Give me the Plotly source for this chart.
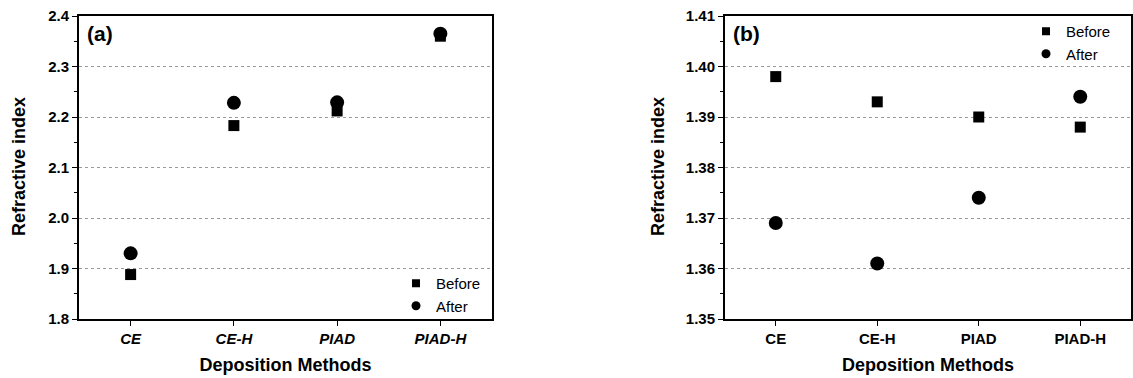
import plotly.graph_objects as go

categories = ["CE", "CE-H", "PIAD", "PIAD-H"]
before_a = [1.888, 2.183, 2.212, 2.360]
after_a = [1.930, 2.228, 2.229, 2.365]
before_b = [1.398, 1.393, 1.390, 1.388]
after_b = [1.369, 1.361, 1.374, 1.394]
yticks_a = [1.8, 1.9, 2.0, 2.1, 2.2, 2.3, 2.4]
yticks_b = [1.35, 1.36, 1.37, 1.38, 1.39, 1.40, 1.41]
series_names = ["Before", "After"]

W, H = 1133, 378
FONT = "Liberation Sans, Arial, sans-serif"

fig = go.Figure()
msq = dict(symbol="square", size=11, color="black")
mci = dict(symbol="circle", size=14, color="black")
lsq = dict(symbol="square", size=8, color="black")
lci = dict(symbol="circle", size=9, color="black")

for xa, ya, lg, bef, aft in [("x", "y", "legend", before_a, after_a),
                             ("x2", "y2", "legend2", before_b, after_b)]:
    fig.add_trace(go.Scatter(x=categories, y=bef, mode="markers", marker=msq,
                             xaxis=xa, yaxis=ya, showlegend=False))
    fig.add_trace(go.Scatter(x=categories, y=aft, mode="markers", marker=mci,
                             xaxis=xa, yaxis=ya, showlegend=False))
    fig.add_trace(go.Scatter(x=[None], y=[None], mode="markers", marker=lsq,
                             name=series_names[0], xaxis=xa, yaxis=ya, legend=lg))
    fig.add_trace(go.Scatter(x=[None], y=[None], mode="markers", marker=lci,
                             name=series_names[1], xaxis=xa, yaxis=ya, legend=lg))

ydom = [1 - 319 / H, 1 - 16 / H]

def xax(dom, italic, anchor):
    return dict(domain=dom, anchor=anchor, type="category", range=[-0.5, 3.5],
                automargin=False,
                showline=True, linecolor="black", linewidth=2, mirror=True,
                ticks="outside", ticklen=5, tickcolor="black", showgrid=False,
                tickfont=dict(family=FONT, size=15, color="black", weight="bold",
                              style="italic" if italic else "normal"),
                title=dict(text="Deposition Methods", standoff=12,
                           font=dict(family=FONT, size=18, color="black", weight="bold")))

def yax(ticks, anchor, fmt):
    return dict(domain=ydom, anchor=anchor, range=[ticks[0], ticks[-1]],
                tickvals=ticks, tickformat=fmt, automargin=False,
                showline=True, linecolor="black", linewidth=2, mirror=True,
                ticks="outside", ticklen=5, tickcolor="black",
                showgrid=True, gridcolor="#9a9a9a", griddash="dot", gridwidth=1,
                zeroline=False,
                minor=dict(ticks="outside", ticklen=3, tickcolor="black",
                           dtick=(ticks[1] - ticks[0]) / 2, showgrid=False),
                tickfont=dict(family=FONT, size=15, color="black", weight="bold"))

leg_common = dict(xanchor="left", yanchor="top", bgcolor="rgba(0,0,0,0)",
                  itemwidth=30, tracegroupgap=0,
                  font=dict(family=FONT, size=15, color="black"))

def label(text, x, y, size, angle=0):
    return dict(text=text, x=x / W, y=1 - y / H, xref="paper", yref="paper",
                xanchor="center", yanchor="middle", showarrow=False, textangle=angle,
                font=dict(family=FONT, size=size, color="black", weight="bold"))

ann = [
    dict(label("(a)", 0, 0, 21), x=85 / W, y=1 - 20 / H, xanchor="left", yanchor="top"),
    dict(label("(b)", 0, 0, 21), x=731 / W, y=1 - 20 / H, xanchor="left", yanchor="top"),
    label("Refractive index", 19, 167, 18, -90),
    label("Refractive index", 658, 167, 18, -90),
]

fig.update_layout(
    width=W, height=H, plot_bgcolor="white", paper_bgcolor="white",
    margin=dict(l=0, r=0, t=0, b=0, autoexpand=False),
    xaxis=xax([79 / W, 492 / W], True, "y"),
    yaxis=yax(yticks_a, "x", ".1f"),
    xaxis2=xax([725 / W, 1131 / W], False, "y2"),
    yaxis2=yax(yticks_b, "x2", ".2f"),
    legend=dict(x=396 / W, y=1 - 267 / H, **leg_common),
    legend2=dict(x=1026 / W, y=1 - 15 / H, **leg_common),
    annotations=ann,
    showlegend=True,
)

fig.write_html("out.html", post_script="document.body.style.margin='0';",
               config={"displayModeBar": False})
